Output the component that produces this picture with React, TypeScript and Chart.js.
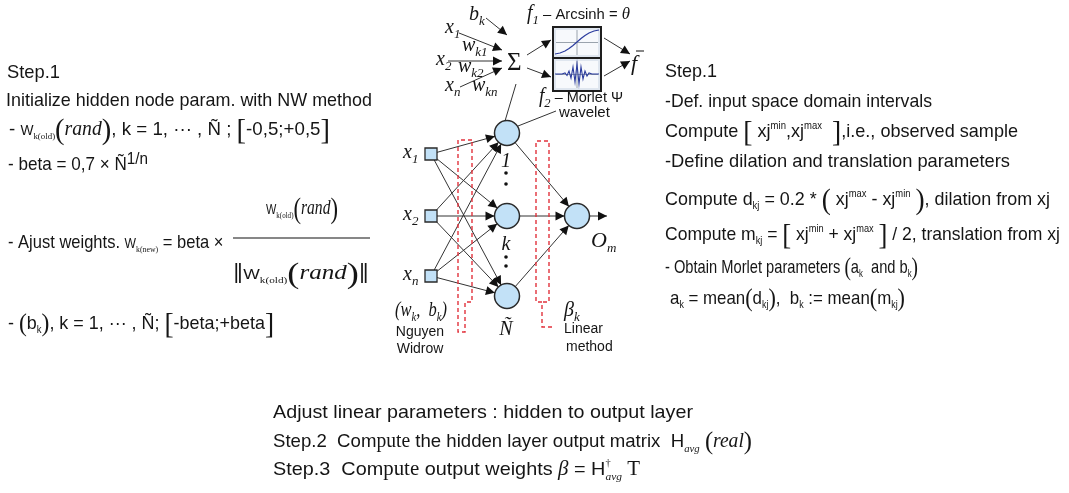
import React, { useEffect, useRef } from "react";
import { Chart, registerables } from "chart.js";

Chart.register(...registerables);

const PAGE_W = 1069;
const PAGE_H = 493;

// ---------------- network (data units = diagram units) ----------------
const inputSubs = ["1", "2", "n"];
const inputY = [154, 216, 276];
const hiddenLabels = ["1", "k", "Ñ"];
const hiddenLabelY = [167, 250, 335];
const hiddenY = [133, 216, 296];
const outputSub = ["m"];
const outputY = [216];
const layerX = [431, 507, 577];
const ellipsisY = [173, 184, 257, 266];
const outputArrowEnd = [607, 216];

// neuron detail (top): [x0, y0, x1, y1]
const neuronEdges = [
  [486, 18, 507, 35],
  [459, 33, 502, 50],
  [448, 61, 502, 61],
  [460, 87, 502, 68],
  [527, 55, 551, 40],
  [527, 68, 551, 77],
  [604, 38, 630, 54],
  [604, 76, 630, 61],
];
const neuronConnectors = [
  [516, 84, 505, 121],
  [556, 111, 518, 126],
];
const plotBoxes = [
  [553, 27, 601, 58],
  [553, 58, 601, 91],
];
const arcsinhX = [555, 560, 565, 569, 573, 577, 581, 585, 589, 594, 599];
const arcsinhY = [54, 53, 51, 48.5, 45.5, 42, 38.5, 35.5, 33, 31, 30];
const morletX = [555, 562, 565, 567, 569, 571, 573, 575, 577, 579, 581, 583, 585, 587, 589, 592, 599];
const morletY = [74, 74, 73, 75.5, 71, 78, 67, 82, 64, 84, 67, 79, 71, 76, 73, 74, 74];

const bracketNW = [[472, 140], [458, 140], [458, 332], [465, 332], [465, 302], [472, 302], [472, 140]];
const bracketLin = [[552, 327], [542, 327], [542, 302], [536, 302], [536, 141], [549, 141], [549, 302], [542, 302]];

// ---------------- texts ----------------
const leftLines = [
  [["Step.1", "n"]],
  [["Initialize hidden node param. with NW method", "n"]],
  [["- ", "n"], ["W", "W"], ["k(old)", "ks"], ["(", "B"], ["rand", "i"], [")", "B"], [", k = 1, ··· , Ñ ; ", "n"], ["[", "B"], ["-0,5;+0,5", "n"], ["]", "B"]],
  [["- beta = 0,7 × Ñ", "n"], ["1/n", "pn"]],
  [["- Ajust weights. ", "n"], ["W", "W"], ["k(new)", "ks"], [" = beta × ", "n"]],
  [["- ", "n"], ["(", "Bm"], ["b", "n"], ["k", "s"], [")", "Bm"], [", k = 1, ··· , Ñ; ", "n"], ["[", "B"], ["-beta;+beta", "n"], ["]", "B"]],
];
const leftX = [7, 6, 9, 8, 8, 8];
const leftY = [78, 106, 135, 170, 248, 329];
const leftW = [53, 366, 321, 140, 220, 266];

const fracNum = [["W", "W"], ["k(old)", "ks"], ["(", "B"], ["rand", "i"], [")", "B"]];
const fracDen = [["‖", "B"], ["W", "W"], ["k(old)", "ks"], ["(", "B"], ["rand", "i"], [")", "B"], ["‖", "B"]];

const rightLines = [
  [["Step.1", "n"]],
  [["-Def. input space domain intervals", "n"]],
  [["Compute ", "n"], ["[", "B"], [" xj", "n"], ["min", "p"], [",xj", "n"], ["max", "p"], ["  ", "n"], ["]", "B"], [",i.e., observed sample", "n"]],
  [["-Define dilation and translation parameters", "n"]],
  [["Compute d", "n"], ["kj", "s"], [" = 0.2 * ", "n"], ["(", "B"], [" xj", "n"], ["max", "p"], [" - xj", "n"], ["min", "p"], [" ", "n"], [")", "B"], [", dilation from xj", "n"]],
  [["Compute m", "n"], ["kj", "s"], [" = ", "n"], ["[", "B"], [" xj", "n"], ["min", "p"], [" + xj", "n"], ["max", "p"], [" ", "n"], ["]", "B"], [" / 2, translation from xj", "n"]],
  [["- Obtain Morlet parameters ", "n"], ["(", "Bm"], ["a", "n"], ["k", "s"], ["  and b", "n"], ["k", "s"], [")", "Bm"]],
  [["a", "n"], ["k", "s"], [" = mean", "n"], ["(", "Bm"], ["d", "n"], ["kj", "s"], [")", "Bm"], [",  b", "n"], ["k", "s"], [" := mean", "n"], ["(", "Bm"], ["m", "n"], ["kj", "s"], [")", "Bm"]],
];
const rightX = [665, 665, 665, 665, 665, 665, 665, 670];
const rightY = [77, 107, 137, 167, 205, 240, 273, 304];
const rightW = [52, 267, 353, 345, 385, 395, 253, 235];

const bottomLines = [
  [["Adjust linear parameters : hidden to output layer", "n"]],
  [["Step.2  Com", "n"], ["pute", "r"], [" the hidden layer output matrix  H", "n"], ["avg", "isb"], [" ", "n"], ["(", "Bm"], ["real", "i"], [")", "Bm"]],
  [["Step.3  Com", "n"], ["pute", "r"], [" output weights ", "n"], ["β", "i"], [" = H", "n"], ["†", "dg"], ["avg", "isb"], [" T", "r"]],
];
const bottomX = [273, 273, 273];
const bottomY = [418, 447, 475];
const bottomW = [420, 479, 367];

// small labels: [segments, x, y, align, width]
const labels: any[] = [
  [[["b", "i"], ["k", "is"]], 469, 20, "left", 0],
  [[["x", "i"], ["1", "is"]], 445, 33, "left", 0],
  [[["w", "i"], ["k1", "is"]], 462, 51, "left", 0],
  [[["x", "i"], ["2", "is"]], 436, 65, "left", 0],
  [[["w", "i"], ["k2", "is"]], 458, 72, "left", 0],
  [[["x", "i"], ["n", "is"]], 445, 91, "left", 0],
  [[["w", "i"], ["kn", "is"]], 472, 91, "left", 0],
  [[["Σ", "sig"]], 507, 70, "left", 0],
  [[["f", "i"], ["1", "is"], [" – Arcsinh = ", "nt"], ["θ", "th"]], 527, 19, "left", 103],
  [[["f", "i"], ["2", "is"], [" – Morlet Ψ", "nt"]], 539, 102, "left", 84],
  [[["wavelet", "nt"]], 559, 117, "left", 0],
  [[["f", "ib"]], 631, 70, "left", 0],
  [[["(w", "i"], ["k", "is"], [",  b", "i"], ["k", "is"], [")", "i"]], 421, 316, "center", 52],
  [[["Nguyen", "lab"]], 420, 336, "center", 0],
  [[["Widrow", "lab"]], 420, 353, "center", 0],
  [[["β", "i"], ["k", "is"]], 564, 316, "left", 0],
  [[["Linear", "lab"]], 564, 333, "left", 0],
  [[["method", "lab"]], 566, 351, "left", 0],
];

// ---------------- styles ----------------
const SANS = '"Liberation Sans", Arial, Helvetica, sans-serif';
const SERIF = '"Liberation Serif", "Times New Roman", serif';
const ST: any = {
  n: { fam: SANS, size: 19 },
  nt: { fam: SANS, size: 15 },
  lab: { fam: SANS, size: 14 },
  W: { fam: SANS, size: 14 },
  ks: { fam: SERIF, size: 9, dy: 4 },
  s: { fam: SANS, size: 10, dy: 4 },
  p: { fam: SANS, size: 10, dy: -8 },
  pn: { fam: SANS, size: 17, dy: -6 },
  B: { fam: SERIF, size: 29, dy: 4 },
  Bm: { fam: SERIF, size: 25, dy: 2 },
  i: { fam: SERIF, it: true, size: 20 },
  ib: { fam: SERIF, it: true, size: 22 },
  is: { fam: SERIF, it: true, size: 13, dy: 5 },
  isb: { fam: SERIF, it: true, size: 11, dy: 5 },
  r: { fam: SERIF, size: 20 },
  dg: { fam: SERIF, size: 10, dy: -9, na: true },
  sig: { fam: SERIF, size: 25 },
  th: { fam: SERIF, it: true, size: 17 },
};
const TEXT = "#151515";
const EDGE = "#333333";
const RED = "#e2323c";

function fontOf(st: any) {
  return `${st.it ? "italic " : ""}normal ${st.size}px ${st.fam}`;
}

function drawRich(ctx: any, segs: any[], x: number, y: number, align: string, width: number) {
  ctx.save();
  const parts = segs.map(([t, k]: any) => {
    const st = ST[k];
    ctx.font = fontOf(st);
    const w = ctx.measureText(t).width;
    return { t, st, w: st.na ? 0 : w };
  });
  const total = parts.reduce((a: number, p: any) => a + p.w, 0);
  const sc = width ? width / total : 1;
  const x0 = align === "center" ? x - (total * sc) / 2 : x;
  ctx.translate(x0, y);
  ctx.scale(sc, 1);
  ctx.fillStyle = TEXT;
  ctx.textBaseline = "alphabetic";
  ctx.textAlign = "left";
  let cx = 0;
  for (const p of parts) {
    ctx.font = fontOf(p.st);
    ctx.fillText(p.t, cx, p.st.dy || 0);
    cx += p.w;
  }
  ctx.restore();
}

const diagramPlugin = {
  id: "diagram",
  beforeDatasetsDraw(chart: any) {
    const { ctx } = chart;
    const xs = chart.scales.x;
    const ys = chart.scales.y;
    ctx.save();
    plotBoxes.forEach(([x0, y0, x1, y1]) => {
      const px0 = xs.getPixelForValue(x0), py0 = ys.getPixelForValue(y0);
      const px1 = xs.getPixelForValue(x1), py1 = ys.getPixelForValue(y1);
      ctx.fillStyle = "#dfe6ef";
      ctx.fillRect(px0, py0, px1 - px0, py1 - py0);
      ctx.fillStyle = "#f7f9fc";
      ctx.fillRect(px0 + 3, py0 + 3, px1 - px0 - 6, py1 - py0 - 6);
      ctx.strokeStyle = "#9aa3ad";
      ctx.lineWidth = 1;
      const mx = (px0 + px1) / 2, my = (py0 + py1) / 2;
      ctx.beginPath();
      ctx.moveTo(mx, py0 + 3); ctx.lineTo(mx, py1 - 3);
      ctx.moveTo(px0 + 3, my); ctx.lineTo(px1 - 3, my);
      ctx.stroke();
      ctx.strokeStyle = "#1e1e1e";
      ctx.lineWidth = 2;
      ctx.strokeRect(px0, py0, px1 - px0, py1 - py0);
    });
    ctx.restore();
  },
  afterDatasetsDraw(chart: any) {
    const { ctx } = chart;
    const xs = chart.scales.x;
    const ys = chart.scales.y;
    ctx.save();
    // arrowheads
    chart.data.datasets.forEach((ds: any, i: number) => {
      if (!ds.arrow) return;
      const pts = chart.getDatasetMeta(i).data;
      const p0 = pts[pts.length - 2], p1 = pts[pts.length - 1];
      const dx = p1.x - p0.x, dy = p1.y - p0.y;
      const L = Math.hypot(dx, dy) || 1;
      const ux = dx / L, uy = dy / L;
      const tx = p1.x - ux * ds.arrow.inset, ty = p1.y - uy * ds.arrow.inset;
      const bx = tx - ux * ds.arrow.len, by = ty - uy * ds.arrow.len;
      const h = ds.arrow.half;
      ctx.fillStyle = "#111";
      ctx.beginPath();
      ctx.moveTo(tx, ty);
      ctx.lineTo(bx - uy * h, by + ux * h);
      ctx.lineTo(bx + uy * h, by - ux * h);
      ctx.closePath();
      ctx.fill();
    });
    // text blocks
    const P = (x: number) => xs.getPixelForValue(x);
    const Q = (y: number) => ys.getPixelForValue(y);
    leftLines.forEach((l, i) => drawRich(ctx, l, P(leftX[i]), Q(leftY[i]), "left", leftW[i]));
    rightLines.forEach((l, i) => drawRich(ctx, l, P(rightX[i]), Q(rightY[i]), "left", rightW[i]));
    bottomLines.forEach((l, i) => drawRich(ctx, l, P(bottomX[i]), Q(bottomY[i]), "left", bottomW[i]));
    // fraction
    drawRich(ctx, fracNum, P(302), Q(214), "center", 72);
    drawRich(ctx, fracDen, P(301), Q(279), "center", 136);
    ctx.strokeStyle = "#111";
    ctx.lineWidth = 1.2;
    ctx.beginPath();
    ctx.moveTo(P(233), Q(238));
    ctx.lineTo(P(370), Q(238));
    // overbar of f
    ctx.moveTo(P(636), Q(51));
    ctx.lineTo(P(644), Q(51));
    ctx.stroke();
    // node labels
    inputSubs.forEach((s, i) => drawRich(ctx, [["x", "i"], [s, "is"]], P(403), Q(inputY[i] + 4), "left", 0));
    hiddenLabels.forEach((s, i) => drawRich(ctx, [[s, "i"]], P(layerX[1] - 1), Q(hiddenLabelY[i]), "center", 0));
    outputSub.forEach((s, i) => drawRich(ctx, [["O", "ib"], [s, "is"]], P(591), Q(outputY[i] + 31), "left", 0));
    labels.forEach(([segs, x, y, align, w]) => drawRich(ctx, segs, P(x), Q(y), align, w));
    ctx.restore();
  },
};

function edge(a: number[], b: number[], arrow: any) {
  return {
    data: [{ x: a[0], y: a[1] }, { x: b[0], y: b[1] }],
    showLine: true,
    borderColor: EDGE,
    borderWidth: 1,
    pointRadius: 0,
    clip: false,
    order: 10,
    arrow,
  };
}

function buildDatasets() {
  const ds: any[] = [];
  ds.push({
    data: inputY.map((y) => ({ x: layerX[0], y })),
    pointStyle: "rect",
    pointRadius: 8.5,
    backgroundColor: "#c2e1f7",
    borderColor: "#2a2a2a",
    borderWidth: 1.3,
    clip: false,
    order: 0,
  });
  ds.push({
    data: hiddenY.map((y) => ({ x: layerX[1], y })),
    pointStyle: "circle",
    pointRadius: 12.5,
    backgroundColor: "#c2e1f7",
    borderColor: "#2a2a2a",
    borderWidth: 1.5,
    clip: false,
    order: 0,
  });
  ds.push({
    data: outputY.map((y) => ({ x: layerX[2], y })),
    pointStyle: "circle",
    pointRadius: 12.5,
    backgroundColor: "#c2e1f7",
    borderColor: "#2a2a2a",
    borderWidth: 1.5,
    clip: false,
    order: 0,
  });
  ds.push({
    data: ellipsisY.map((y) => ({ x: layerX[1] - 1, y })),
    pointStyle: "circle",
    pointRadius: 1.8,
    backgroundColor: "#111",
    borderWidth: 0,
    clip: false,
    order: 0,
  });
  ds.push({
    data: arcsinhX.map((x, i) => ({ x, y: arcsinhY[i] })),
    showLine: true,
    borderColor: "#2b3c9e",
    borderWidth: 1.2,
    pointRadius: 0,
    clip: false,
    order: 1,
  });
  ds.push({
    data: morletX.map((x, i) => ({ x, y: morletY[i] })),
    showLine: true,
    borderColor: "#2b3c9e",
    borderWidth: 1.1,
    pointRadius: 0,
    clip: false,
    order: 1,
  });
  [bracketNW, bracketLin].forEach((b) =>
    ds.push({
      data: b.map(([x, y]) => ({ x, y })),
      showLine: true,
      borderColor: RED,
      borderWidth: 1.4,
      borderDash: [4, 3],
      pointRadius: 0,
      clip: false,
      order: 5,
    })
  );
  inputY.forEach((yi) =>
    hiddenY.forEach((yh) =>
      ds.push(edge([layerX[0], yi], [layerX[1], yh], { inset: 12.5, len: 9, half: 4.5 }))
    )
  );
  hiddenY.forEach((yh) =>
    ds.push(edge([layerX[1], yh], [layerX[2], outputY[0]], { inset: 12.5, len: 9, half: 4.5 }))
  );
  ds.push(edge([layerX[2], outputY[0]], outputArrowEnd, { inset: 0, len: 9, half: 4.5 }));
  neuronEdges.forEach(([x0, y0, x1, y1]) =>
    ds.push(edge([x0, y0], [x1, y1], { inset: 0, len: 9, half: 4.5 }))
  );
  neuronConnectors.forEach(([x0, y0, x1, y1]) => ds.push(edge([x0, y0], [x1, y1], null)));
  return ds;
}

export default function App() {
  const ref = useRef<HTMLCanvasElement | null>(null);
  useEffect(() => {
    if (!ref.current) return;
    const chart = new Chart(ref.current, {
      type: "scatter",
      data: { datasets: buildDatasets() },
      options: {
        animation: false,
        responsive: false,
        devicePixelRatio: 1,
        events: [],
        layout: { padding: 0, autoPadding: false },
        elements: { line: { tension: 0 } },
        plugins: { legend: { display: false }, tooltip: { enabled: false } },
        scales: {
          x: { type: "linear", min: 0, max: PAGE_W, display: false },
          y: { type: "linear", min: 0, max: PAGE_H, reverse: true, display: false },
        },
      } as any,
      plugins: [diagramPlugin],
    });
    return () => chart.destroy();
  }, []);
  return (
    <div style={{ position: "absolute", left: 0, top: 0, width: PAGE_W, height: PAGE_H, background: "#fff" }}>
      <canvas ref={ref} width={PAGE_W} height={PAGE_H} style={{ display: "block" }} />
    </div>
  );
}
